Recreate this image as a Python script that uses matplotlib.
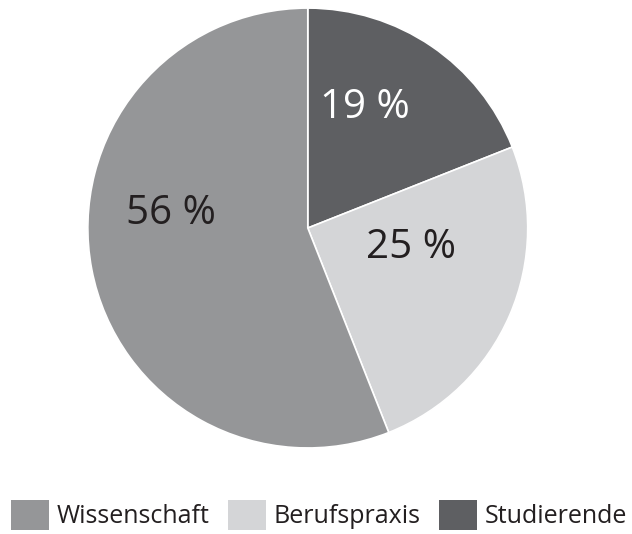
import matplotlib
matplotlib.use("Agg")
import matplotlib.pyplot as plt
from matplotlib.patches import Patch

plt.rcParams['font.family'] = ['Open Sans', 'DejaVu Sans']

# pie data, clockwise from the top
categories = ['Studierende', 'Berufspraxis', 'Wissenschaft']
shares = [19, 25, 56]
colors = ['#5e5f62', '#d4d5d7', '#959698']
label_colors = ['white', '#231f20', '#231f20']
# label anchor offsets in pie-radius units
label_pos = [(0.26, 0.545), (0.47, -0.09), (-0.62, 0.064)]

legend_order = ['Wissenschaft', 'Berufspraxis', 'Studierende']

fig = plt.figure(figsize=(6.32, 5.34), dpi=100)
ax = fig.add_axes([0.139, 0.161, 0.696, 0.824])

ax.pie(shares, colors=colors, startangle=90, counterclock=False,
       wedgeprops=dict(edgecolor='white', linewidth=1.2))
ax.set_xlim(-1, 1)
ax.set_ylim(-1, 1)
ax.set_aspect('equal')

for val, (x, y), c in zip(shares, label_pos, label_colors):
    ax.text(x, y, f'{val} %', ha='center', va='center', fontsize=29, color=c)

handles = []
for name in legend_order:
    c = colors[categories.index(name)]
    handles.append(Patch(facecolor=c, edgecolor='none', label=name))

fig.legend(handles=handles, loc='lower center', bbox_to_anchor=(0.505, -0.016),
           ncol=3, frameon=False, fontsize=18, handlelength=1.5, handleheight=1.5,
           handletextpad=0.32, columnspacing=0.75, borderaxespad=0.1,
           labelcolor='#231f20')

fig.savefig('out.png', dpi=100)
